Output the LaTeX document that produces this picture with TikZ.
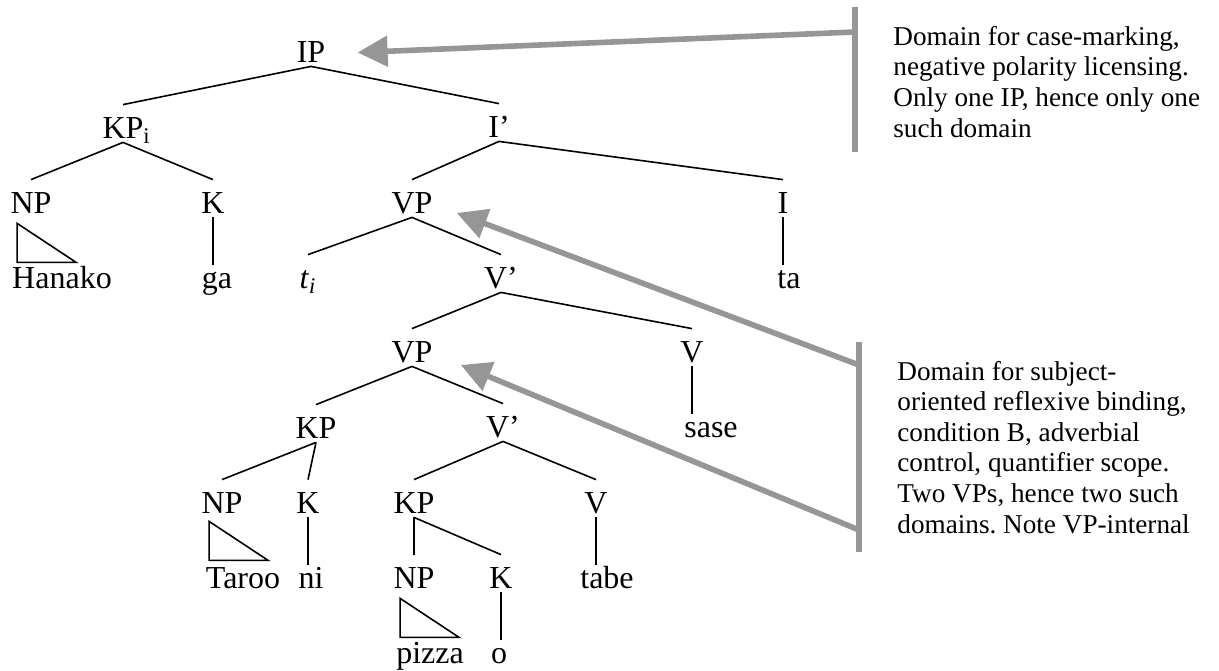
\documentclass[tikz,border=0pt]{standalone}
\usepackage{fontspec}
\setmainfont{Liberation Serif}
\usetikzlibrary{arrows.meta,calc}
\definecolor{domgray}{RGB}{150,150,150}
\frenchspacing

\begin{document}
\begin{tikzpicture}[x=0.5pt, y=-0.5pt,
    cat/.style={font=\fontsize{16}{18}\selectfont, anchor=base, inner sep=2pt, text height=14.5pt, text depth=0pt},
    word/.style={font=\fontsize{16}{18}\selectfont, anchor=base, inner sep=2pt, text height=9.5pt},
    branch/.style={black, line width=0.8pt},
    domainbar/.style={domgray, line width=2.8pt},
    domarrow/.style={domgray, line width=2.8pt, -{Triangle[length=15pt, width=15pt]}},
    note/.style={font=\fontsize{13.6}{15.3}\selectfont, anchor=base west, align=left, inner sep=0pt}]
    \useasboundingbox (0,0) rectangle (1219,670);

    % Category nodes and words
    \node[cat] (ip) at (311,62) {IP};
    \node[cat] (kpi) at (123,138) {KP\rlap{\textsubscript{i}}};
    \node[cat] (ibar) at (499,137) {I'};
    \node[cat] (np1) at (31,213) {NP};
    \node[cat] (k1) at (213,213) {K};
    \node[cat] (vp1) at (412,213) {VP};
    \node[cat] (i) at (783,213) {I};
    \node[word] (hanako) at (62,288) {Hanako};
    \node[word] (ga) at (217,288) {ga};
    \node[cat] (trace) at (308,288) {\textit{t}\textsubscript{\textit{i}}};
    \node[cat] (vbar1) at (501,288) {V'};
    \node[word] (ta) at (789,288) {ta};
    \node[cat] (vp2) at (412,362) {VP};
    \node[cat] (v1) at (692,362) {V};
    \node[word] (sase) at (711,437) {sase};
    \node[cat] (kp2) at (316,438) {KP};
    \node[cat] (vbar2) at (503,437) {V'};
    \node[cat] (np2) at (222,513) {NP};
    \node[cat] (k2) at (308,513) {K};
    \node[cat] (kp3) at (414,513) {KP};
    \node[cat] (v2) at (596,513) {V};
    \node[word] (taroo) at (243,588) {Taroo};
    \node[word] (ni) at (311,588) {ni};
    \node[cat] (np3) at (414,588) {NP};
    \node[cat] (k3) at (501,588) {K};
    \node[word] (tabe) at (607,588) {tabe};
    \node[word] (pizza) at (430,663) {pizza};
    \node[word] (o) at (499,663) {o};

    % Branches
    \draw[branch] (ip.south) -- (kpi.north);
    \draw[branch] (ip.south) -- (ibar.north);
    \draw[branch] (kpi.south) -- (np1.north);
    \draw[branch] (kpi.south) -- (k1.north);
    \draw[branch] (ibar.south) -- (vp1.north);
    \draw[branch] (ibar.south) -- (i.north);
    \draw[branch] (vp1.south) -- (trace.north);
    \draw[branch] (vp1.south) -- (vbar1.north);
    \draw[branch] (vbar1.south) -- (vp2.north);
    \draw[branch] (vbar1.south) -- (v1.north);
    \draw[branch] (vp2.south) -- (kp2.north);
    \draw[branch] (vp2.south) -- (vbar2.north);
    \draw[branch] (kp2.south) -- (np2.north);
    \draw[branch] (kp2.south) -- (k2.north);
    \draw[branch] (vbar2.south) -- (kp3.north);
    \draw[branch] (vbar2.south) -- (v2.north);
    \draw[branch] (kp3.south) -- (np3.north);
    \draw[branch] (kp3.south) -- (k3.north);

    % Heads to words
    \draw[branch] (k1.south) -- (k1.south |- ga.north);
    \draw[branch] (i.south) -- (i.south |- ta.north);
    \draw[branch] (v1.south) -- (v1.south |- sase.north);
    \draw[branch] (k2.south) -- (k2.south |- ni.north);
    \draw[branch] (v2.south) -- (v2.south |- tabe.north);
    \draw[branch] (k3.south) -- (k3.south |- o.north);

    % Triangles over phrases
    \draw[branch] ($(np1.south west)+(11,6)$) -- ++(0,39) -- ++(59,0) -- cycle;
    \draw[branch] ($(np2.south west)+(12,4)$) -- ++(0,39) -- ++(59,0) -- cycle;
    \draw[branch] ($(np3.south west)+(11,6)$) -- ++(0,39) -- ++(59,0) -- cycle;

    % Domain brackets
    \draw[domainbar] (855,7) -- (855,152);
    \draw[domainbar] (859,342) -- (859,552);
    \coordinate (b1) at (855,32);
    \coordinate (b2) at (859,365);
    \coordinate (b3) at (859,530);

    % Arrows to the domains
    \draw[domarrow] (b1) -- ($(ip.east)+(28,5)$);
    \draw[domarrow] (b2) -- ($(vp1.base east)+(20,0)$);
    \draw[domarrow] (b3) -- ($(vp2.base east)+(24,3)$);

    % Notes (base is the last line)
    \node[note] (note1) at (893,137) {Domain for case-marking,\\negative polarity licensing.\\Only one IP, hence only one\\such domain};
    \node[note] (note2) at (897,533) {Domain for subject-\\oriented reflexive binding,\\condition B, adverbial\\control, quantifier scope.\\Two VPs, hence two such\\domains. Note VP-internal};
\end{tikzpicture}
\end{document}
